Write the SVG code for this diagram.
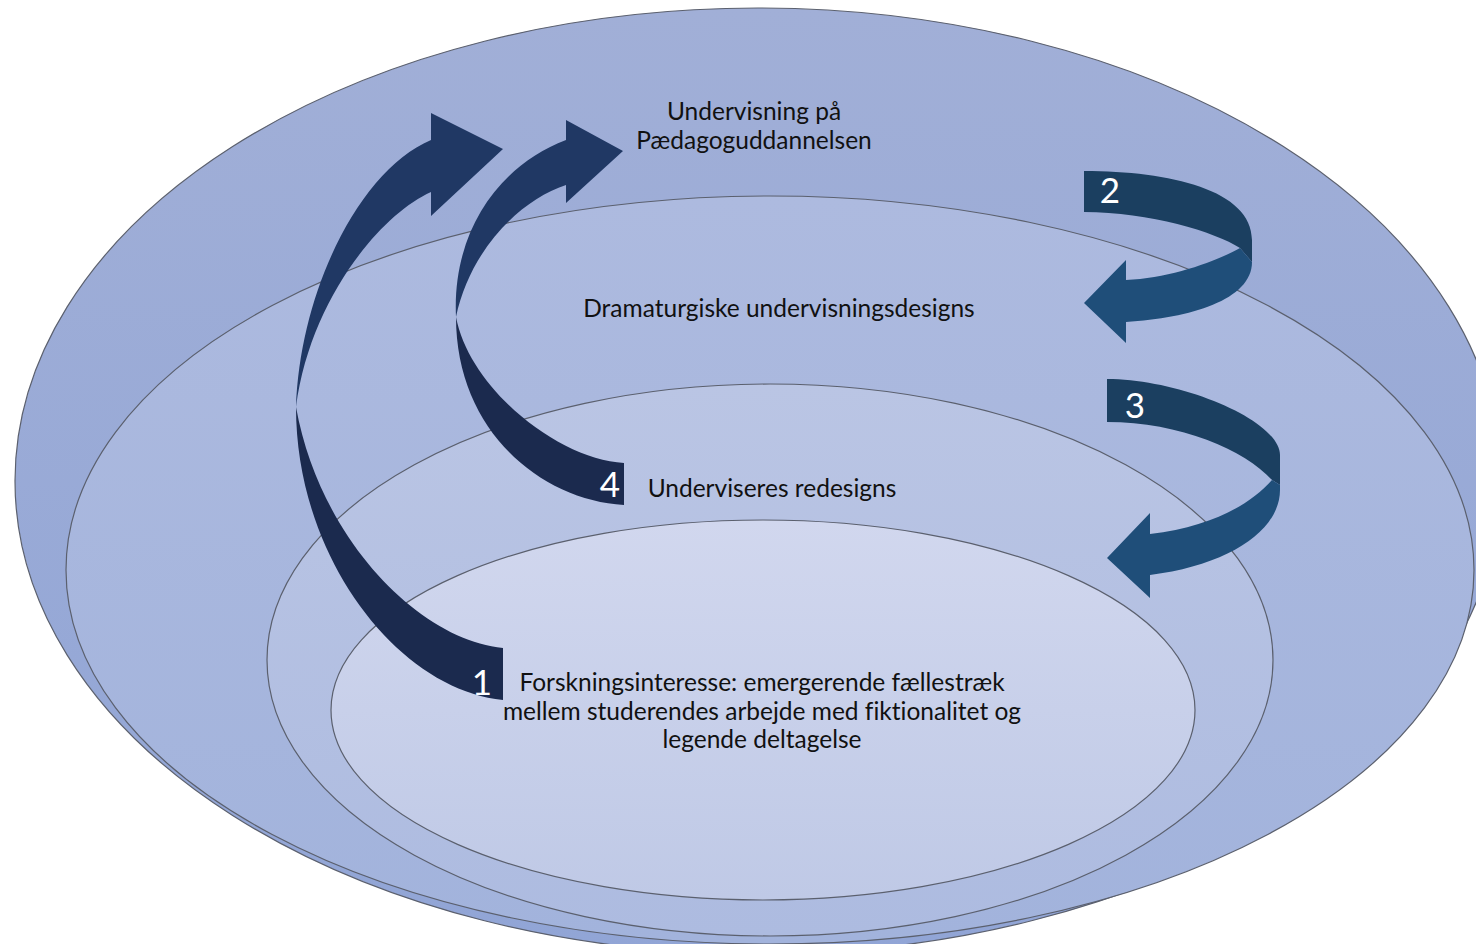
<svg xmlns="http://www.w3.org/2000/svg" width="1476" height="944" viewBox="0 0 1476 944">
  <defs>
    <linearGradient id="gOuter" x1="0" y1="0" x2="0" y2="1">
      <stop offset="0" stop-color="#A1AFD7"/>
      <stop offset="1" stop-color="#91A5D6"/>
    </linearGradient>
    <linearGradient id="gSecond" x1="0" y1="0" x2="0" y2="1">
      <stop offset="0" stop-color="#ADBADF"/>
      <stop offset="1" stop-color="#A2B3DC"/>
    </linearGradient>
    <linearGradient id="gThird" x1="0" y1="0" x2="0" y2="1">
      <stop offset="0" stop-color="#BAC5E4"/>
      <stop offset="1" stop-color="#ADBBE0"/>
    </linearGradient>
    <linearGradient id="gInner" x1="0" y1="0" x2="0" y2="1">
      <stop offset="0" stop-color="#D1D7EE"/>
      <stop offset="1" stop-color="#BFC9E6"/>
    </linearGradient>
  </defs>
  <style>
    .layer { stroke: #5B606E; stroke-width: 1.2; }
    .lbl { font-family: Lato, "Open Sans", sans-serif; font-size: 24.5px; fill: #111; text-anchor: middle; font-variant-ligatures: none; }
    .num { font-family: Lato, "Open Sans", sans-serif; font-size: 35px; fill: #FFFFFF; text-anchor: middle; }
    .navyA { fill: #203864; }
    .navyB { fill: #1B2A4E; }
    .blueA { fill: #1B3F60; }
    .blueB { fill: #1F4E79; }
  </style>

  <g id="layer-undervisning">
    <ellipse class="layer" cx="758" cy="481" rx="743" ry="473" fill="url(#gOuter)"/>
  </g>
  <g id="layer-dramaturgiske">
    <ellipse class="layer" cx="770" cy="570" rx="704" ry="374" fill="url(#gSecond)"/>
  </g>
  <g id="layer-redesigns">
    <ellipse class="layer" cx="770" cy="660" rx="503" ry="276" fill="url(#gThird)"/>
  </g>
  <g id="layer-forskning">
    <ellipse class="layer" cx="763" cy="710" rx="432" ry="190" fill="url(#gInner)"/>
  </g>

  <g id="connectors">
    <g id="arrow-1">
      <path class="navyA" d="M296,407 C300,290 360,170 431,140 L431,113 L503,149 L431,216 L431,192 C380,215 310,300 296,407 Z"/>
      <path class="navyB" d="M296,407 C296,560 400,690 503,700 L503,648 C420,640 320,540 296,407 Z"/>
    </g>
    <g id="arrow-4">
      <path class="navyA" d="M456,317 C452,230 500,165 566,140 L566,120 L623,151 L566,203 L566,185 C520,200 470,250 456,317 Z"/>
      <path class="navyB" d="M456,317 C456,430 540,500 624,505 L624,463 C560,460 470,390 456,317 Z"/>
    </g>
    <g id="arrow-2">
      <path class="blueA" d="M1084,171 C1170,171 1252,190 1252,240 L1252,262 L1240,248 C1215,232 1150,212 1084,212 Z"/>
      <path class="blueB" d="M1252,262 L1240,248 C1215,262 1170,278 1126,280 L1126,260 L1084,303 L1126,343 L1126,322 C1190,318 1252,300 1252,262 Z"/>
    </g>
    <g id="arrow-3">
      <path class="blueA" d="M1107,379 C1180,379 1280,420 1280,455 L1280,485 L1272,480 C1245,450 1180,422 1107,422 Z"/>
      <path class="blueB" d="M1280,485 L1272,480 C1250,505 1210,527 1150,534 L1150,513 L1107,558 L1150,598 L1150,575 C1230,565 1280,530 1280,490 Z"/>
    </g>
  </g>

  <g id="labels">
    <text class="lbl" x="754" y="120">Undervisning på</text>
    <text class="lbl" x="754" y="149">Pædagoguddannelsen</text>
    <text class="lbl" x="779" y="317">Dramaturgiske undervisningsdesigns</text>
    <text class="lbl" x="772" y="497">Underviseres redesigns</text>
    <text class="lbl" x="762" y="691">Forskningsinteresse: emergerende fællestræk</text>
    <text class="lbl" x="762" y="720">mellem studerendes arbejde med fiktionalitet og</text>
    <text class="lbl" x="762" y="748">legende deltagelse</text>
    <text class="num" x="1110" y="203">2</text>
    <text class="num" x="1135" y="418">3</text>
    <text class="num" x="610" y="497">4</text>
    <text class="num" x="482" y="695">1</text>
  </g>
</svg>
